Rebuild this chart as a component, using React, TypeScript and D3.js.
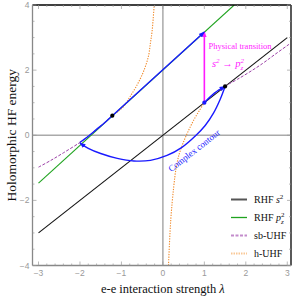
import * as d3 from "d3";

const W = 296;
const H = 299;
const PLOT = { left: 32.5, right: 291, top: 5, bottom: 265.5 };

// curves: [lambda, energy]
const rhfS: [number, number][] = [
  [-3, -3],
  [3, 3],
];
const rhfP: [number, number][] = [
  [-3, -1.47],
  [1.72, 4],
];
const sbLeft: [number, number][] = [
  [-3, -0.98],
  [-2.7, -0.77],
  [-2.4, -0.54],
  [-2.0, -0.22],
  [-1.8, -0.03],
  [-1.6, 0.18],
  [-1.4, 0.39],
  [-1.22, 0.6],
];
const sbRight: [number, number][] = [
  [1.5, 1.5],
  [1.6, 1.58],
  [1.8, 1.72],
  [2.1, 1.95],
  [2.4, 2.2],
  [2.7, 2.48],
  [3.05, 2.8],
];
const hUpper: [number, number][] = [
  [-1.12, 0.7],
  [-0.95, 0.88],
  [-0.79, 1.19],
  [-0.62, 1.55],
  [-0.47, 1.95],
  [-0.35, 2.42],
  [-0.3, 2.84],
  [-0.26, 3.2],
  [-0.21, 4],
];
const hLower: [number, number][] = [
  [0.135, -4],
  [0.19, -2.6],
  [0.26, -1.6],
  [0.32, -1.0],
  [0.4, -0.55],
  [0.5, -0.2],
  [0.62, 0.15],
  [0.75, 0.48],
  [0.88, 0.76],
  [1.0, 1.0],
];
// blue contour pieces
const stepUp: [number, number][] = [
  [1.0, 1.0],
  [1.25, 1.3],
  [1.5, 1.5],
];
const complexContour: [number, number][] = [
  [1.5, 1.5],
  [1.38, 1.1],
  [1.22, 0.68],
  [1.02, 0.3],
  [0.8, 0.0],
  [0.45, -0.38],
  [0.1, -0.62],
  [-0.3, -0.77],
  [-0.7, -0.79],
  [-1.1, -0.71],
  [-1.5, -0.56],
  [-1.8, -0.4],
  [-2.0, -0.24],
];
const returnPath: [number, number][] = [
  [-2.0, -0.22],
  [-1.8, -0.03],
  [-1.6, 0.18],
  [-1.4, 0.39],
  [-1.22, 0.6],
  [1.0, 3.17],
];
const transition: [number, number][] = [
  [1.0, 1.0],
  [1.0, 3.17],
];
const blackDots: [number, number][] = [
  [-1.22, 0.6],
  [1.5, 1.5],
];
const blueDots: [number, number][] = [[1.0, 1.0]];

const xTicks = [-3, -2, -1, 0, 1, 2, 3];
const yTicks = [-4, -2, 0, 2, 4];

const legendItems = [
  { name: "RHF s", sup: "2", sub: "", color: "#555", dash: "", width: 2 },
  { name: "RHF p", sup: "2", sub: "z", color: "#1fa31f", dash: "", width: 1.3 },
  { name: "sb-UHF", sup: "", sub: "", color: "#c38ccc", dash: "3 1.5", width: 2 },
  { name: "h-UHF", sup: "", sub: "", color: "#f9c896", dash: "1.5 1", width: 2 },
];

const SERIF = "'Liberation Serif', 'DejaVu Serif', serif";
const BLUE = "#1a1aff";
const MAGENTA = "#ff1aff";

export default function App() {
  const x = d3.scaleLinear().domain([-3.145, 3.09]).range([PLOT.left, PLOT.right]);
  const y = d3.scaleLinear().domain([-4, 4]).range([PLOT.bottom, PLOT.top]);

  const line = d3
    .line<[number, number]>()
    .x((d) => x(d[0]))
    .y((d) => y(d[1]));
  const smooth = d3
    .line<[number, number]>()
    .x((d) => x(d[0]))
    .y((d) => y(d[1]))
    .curve(d3.curveCatmullRom);

  const xMinor = d3.range(-3, 3.01, 0.2);
  const yMinor = d3.range(-4, 4.01, 0.5);

  return (
    <svg
      width={W}
      height={H}
      style={{ position: "absolute", left: 0, top: 0, background: "#fff" }}
      fontFamily={SERIF}
    >
      <defs>
        <clipPath id="plot">
          <rect x={PLOT.left} y={PLOT.top} width={PLOT.right - PLOT.left} height={PLOT.bottom - PLOT.top} />
        </clipPath>
        <marker id="ab" viewBox="0 0 10 10" refX="9" refY="5" markerWidth="6" markerHeight="6" orient="auto" markerUnits="userSpaceOnUse">
          <path d="M0,1 L10,5 L0,9 z" fill={BLUE} />
        </marker>
        <marker id="am" viewBox="0 0 10 10" refX="9" refY="5" markerWidth="6" markerHeight="6" orient="auto" markerUnits="userSpaceOnUse">
          <path d="M0,1 L10,5 L0,9 z" fill={MAGENTA} />
        </marker>
      </defs>

      {/* zero grid lines */}
      <line x1={x(0)} x2={x(0)} y1={PLOT.top} y2={PLOT.bottom} stroke="#aaa" strokeWidth={1.5} />
      <line x1={PLOT.left} x2={PLOT.right} y1={y(0)} y2={y(0)} stroke="#aaa" strokeWidth={1.5} />

      <g clipPath="url(#plot)" fill="none">
        <path d={line(rhfS)!} stroke="#111" strokeWidth={1.1} />
        <path d={line(rhfP)!} stroke="#1fa31f" strokeWidth={1.1} />
        <path d={smooth(sbLeft)!} stroke="#9b3fa6" strokeWidth={1} strokeDasharray="3 1.6" />
        <path d={smooth(sbRight)!} stroke="#9b3fa6" strokeWidth={1} strokeDasharray="3 1.6" />
        <path d={smooth(hUpper)!} stroke="#f08a2a" strokeWidth={1.1} strokeDasharray="1.3 1.3" />
        <path d={smooth(hLower)!} stroke="#f08a2a" strokeWidth={1.1} strokeDasharray="1.3 1.3" />

        <path d={line(transition)!} stroke={MAGENTA} strokeWidth={1.6} markerEnd="url(#am)" />
        <path d={smooth(stepUp)!} stroke={BLUE} strokeWidth={1.4} markerEnd="url(#ab)" />
        <path d={smooth(complexContour)!} stroke={BLUE} strokeWidth={1.4} markerEnd="url(#ab)" />
        <path d={smooth(returnPath)!} stroke={BLUE} strokeWidth={1.4} markerEnd="url(#ab)" />
      </g>

      {blackDots.map((d, i) => (
        <circle key={"k" + i} cx={x(d[0])} cy={y(d[1])} r={2.1} fill="#000" />
      ))}
      {blueDots.map((d, i) => (
        <circle key={"b" + i} cx={x(d[0])} cy={y(d[1])} r={2.1} fill={BLUE} />
      ))}

      {/* annotations */}
      <text x={208.5} y={49} fontSize={8.5} fill={MAGENTA}>
        Physical transition
      </text>
      <text x={212} y={67} fontSize={10.5} fill={MAGENTA} fontStyle="italic">
        s<tspan dy={-4} fontSize={7}>2</tspan>
        <tspan dy={4} fontStyle="normal"> → </tspan>p
        <tspan dy={-4} fontSize={7}>2</tspan>
        <tspan dx={-3.5} dy={7} fontSize={7}>z</tspan>
      </text>
      <text
        transform={`translate(196,153) rotate(-38)`}
        textAnchor="middle"
        fontSize={9}
        fill={BLUE}
      >
        Complex contour
      </text>

      {/* frame */}
      <line x1={PLOT.left} x2={PLOT.right} y1={PLOT.top} y2={PLOT.top} stroke="#000" strokeWidth={1.3} />
      <line x1={PLOT.right} x2={PLOT.right} y1={PLOT.top} y2={PLOT.bottom} stroke="#000" strokeWidth={1.3} />
      <line x1={PLOT.left} x2={PLOT.left} y1={PLOT.top} y2={PLOT.bottom} stroke="#888" strokeWidth={1.3} />
      <line x1={PLOT.left} x2={PLOT.right} y1={PLOT.bottom} y2={PLOT.bottom} stroke="#888" strokeWidth={1.3} />

      {/* ticks */}
      {xMinor.map((t, i) => {
        const major = Math.abs(t - Math.round(t)) < 1e-6;
        const len = major ? 4 : 2;
        return (
          <g key={"xt" + i} stroke="#999" strokeWidth={0.7}>
            <line x1={x(t)} x2={x(t)} y1={PLOT.bottom} y2={PLOT.bottom - len} />
            <line x1={x(t)} x2={x(t)} y1={PLOT.top} y2={PLOT.top + len} />
          </g>
        );
      })}
      {yMinor.map((t, i) => {
        const major = Math.abs(t / 2 - Math.round(t / 2)) < 1e-6;
        const len = major ? 4 : 2;
        return (
          <g key={"yt" + i} stroke="#999" strokeWidth={0.7}>
            <line x1={PLOT.left} x2={PLOT.left + len} y1={y(t)} y2={y(t)} />
            <line x1={PLOT.right} x2={PLOT.right - len} y1={y(t)} y2={y(t)} />
          </g>
        );
      })}
      {xTicks.map((t) => (
        <text key={"xl" + t} x={x(t)} y={PLOT.bottom + 10} textAnchor="middle" fontSize={8.5} fill="#999" fontFamily="'Liberation Sans', sans-serif">
          {t < 0 ? `\u2212${-t}` : t}
        </text>
      ))}
      {yTicks.map((t) => (
        <text key={"yl" + t} x={PLOT.left - 3} y={y(t) + 3} textAnchor="end" fontSize={8.5} fill="#999" fontFamily="'Liberation Sans', sans-serif">
          {t < 0 ? `\u2212${-t}` : t}
        </text>
      ))}

      {/* axis labels */}
      <text x={x(0)} y={293} textAnchor="middle" fontSize={12.5} fill="#111">
        e-e interaction strength <tspan fontStyle="italic">λ</tspan>
      </text>
      <text transform={`translate(16,${y(0)}) rotate(-90)`} textAnchor="middle" fontSize={13.5} fill="#111">
        Holomorphic HF energy
      </text>

      {/* legend */}
      {legendItems.map((it, i) => {
        const ly = 199.5 + i * 18;
        return (
          <g key={it.name}>
            <line x1={231} x2={247} y1={ly} y2={ly} stroke={it.color} strokeWidth={it.width} strokeDasharray={it.dash || undefined} />
            <text x={254} y={ly + 3.5} fontSize={10} fill="#111">
              {it.name === "RHF s" || it.name === "RHF p" ? (
                <>
                  RHF <tspan fontStyle="italic">{it.name.slice(4)}</tspan>
                  <tspan dy={-4} fontSize={7}>{it.sup}</tspan>
                  {it.sub && (
                    <tspan dx={-3.5} dy={7} fontSize={7} fontStyle="italic">{it.sub}</tspan>
                  )}
                </>
              ) : (
                it.name
              )}
            </text>
          </g>
        );
      })}
    </svg>
  );
}
